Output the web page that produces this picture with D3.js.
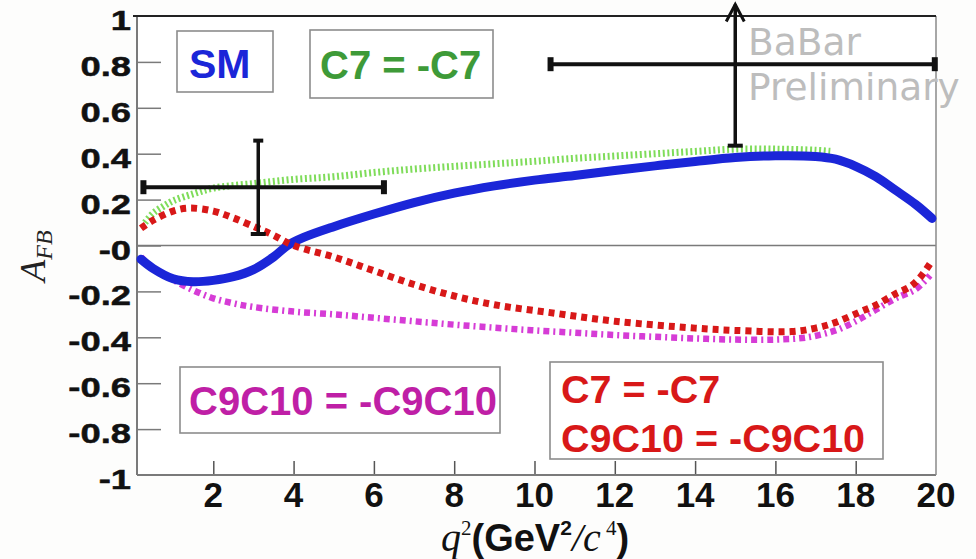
<!DOCTYPE html>
<html>
<head>
<meta charset="utf-8">
<script src="https://cdn.jsdelivr.net/npm/d3@7"></script>
<style>
  html, body { margin: 0; padding: 0; background: #fdfdfc; }
  svg { display: block; }
</style>
</head>
<body>
<svg id="chart" width="976" height="559"></svg>
<script>
// q^2 grid (GeV^2/c^4) and forward-backward asymmetry predictions
const smQ2   = [0.2, 0.5, 1.0, 1.5, 2.0, 2.5, 3.0, 3.5, 3.85, 4.25, 5.0, 6.0, 7.0, 8.0, 9.0, 10.0, 11.0, 12.0, 13.0, 14.0, 15.0, 16.0, 17.0, 17.5, 18.0, 18.5, 19.0, 19.5, 19.9];
const smAfb  = [-0.06, -0.10, -0.145, -0.158, -0.152, -0.136, -0.105, -0.05, 0.0, 0.035, 0.082, 0.137, 0.187, 0.228, 0.26, 0.285, 0.305, 0.327, 0.347, 0.366, 0.383, 0.391, 0.388, 0.376, 0.345, 0.30, 0.24, 0.178, 0.118];

const c7Q2   = [0.3, 0.5, 0.75, 1.0, 1.5, 2.0, 3.0, 4.0, 5.0, 6.0, 7.0, 8.0, 9.0, 10.0, 11.0, 12.0, 13.0, 14.0, 15.0, 16.0, 17.0, 17.4];
const c7Afb  = [0.10, 0.14, 0.17, 0.195, 0.225, 0.25, 0.27, 0.288, 0.30, 0.318, 0.333, 0.345, 0.356, 0.367, 0.38, 0.39, 0.40, 0.41, 0.42, 0.42, 0.415, 0.41];

const c9Q2   = [0.2, 0.5, 1.0, 1.5, 2.0, 2.5, 3.0, 4.0, 5.0, 6.0, 7.0, 8.0, 9.0, 10.0, 11.0, 12.0, 13.0, 14.0, 15.0, 16.0, 16.8, 17.5, 18.0, 18.5, 19.0, 19.5, 19.85];
const c9Afb  = [-0.05, -0.10, -0.15, -0.195, -0.23, -0.252, -0.268, -0.288, -0.30, -0.315, -0.33, -0.345, -0.358, -0.37, -0.38, -0.39, -0.398, -0.405, -0.41, -0.41, -0.40, -0.37, -0.33, -0.28, -0.23, -0.19, -0.13];

const bothQ2  = [0.2, 0.5, 1.0, 1.4, 2.0, 2.5, 3.1, 3.5, 4.0, 5.0, 6.0, 7.0, 8.0, 9.0, 10.5, 12.0, 14.0, 15.0, 16.4, 17.0, 17.5, 18.1, 18.5, 19.0, 19.35, 19.6, 19.85];
const bothAfb = [0.075, 0.11, 0.15, 0.163, 0.15, 0.12, 0.076, 0.045, 0.0, -0.05, -0.11, -0.17, -0.22, -0.258, -0.295, -0.33, -0.36, -0.37, -0.375, -0.36, -0.335, -0.29, -0.26, -0.21, -0.18, -0.14, -0.08];

// Measured bins: centre, bin edges, value and its error range
const binQ2    = [3.12, 15.0];
const binLo    = [0.26, 10.4];
const binHi    = [6.25, 19.97];
const binAfb   = [0.254, 0.79];
const binErrLo = [0.05, 0.435];
const binErrHi = [0.457, 1.05];

const xTicks = [2, 4, 6, 8, 10, 12, 14, 16, 18, 20];
const yTicks = [1, 0.8, 0.6, 0.4, 0.2, 0, -0.2, -0.4, -0.6, -0.8, -1];
const yTickLabels = ["1", "0.8", "0.6", "0.4", "0.2", "-0", "-0.2", "-0.4", "-0.6", "-0.8", "-1"];

const svg = d3.select("#chart");
const x = d3.scaleLinear().domain([0.1, 20]).range([137, 936]);
const y = d3.scaleLinear().domain([-1, 1]).range([475, 16]);

const axisColor = "#7a7a7a";
const sans = "'Liberation Sans', Arial, sans-serif";
const serif = "'Liberation Serif', 'Times New Roman', serif";

// plot area
svg.append("rect")
  .attr("x", x(0.1)).attr("y", y(1))
  .attr("width", x(20) - x(0.1)).attr("height", y(-1) - y(1))
  .attr("fill", "#ffffff").attr("stroke", "none");

// zero line
svg.append("line")
  .attr("x1", x(0.1)).attr("x2", x(20))
  .attr("y1", y(0)).attr("y2", y(0))
  .attr("stroke", axisColor).attr("stroke-width", 1.5);

// left axis with inward ticks
const yAxis = d3.axisRight(y).tickValues(yTicks.filter(v => Math.abs(v) < 1)).tickSize(24).tickFormat("");
const gy = svg.append("g").attr("transform", `translate(${x(0.1)},0)`).call(yAxis);
gy.select(".domain").remove();
gy.selectAll(".tick line").attr("stroke", axisColor).attr("stroke-width", 1.5);

// bottom axis with inward ticks
const xAxis = d3.axisTop(x).tickValues(xTicks.filter(v => v < 20)).tickSize(14).tickFormat("");
const gx = svg.append("g").attr("transform", `translate(0,${y(-1)})`).call(xAxis);
gx.select(".domain").remove();
gx.selectAll(".tick line").attr("stroke", "#555").attr("stroke-width", 1.5);

// frame lines
svg.append("line").attr("x1", x(0.1)).attr("x2", x(0.1)).attr("y1", y(1)).attr("y2", y(-1))
  .attr("stroke", axisColor).attr("stroke-width", 2);
svg.append("line").attr("x1", x(0.1)).attr("x2", x(20)).attr("y1", y(-1)).attr("y2", y(-1))
  .attr("stroke", axisColor).attr("stroke-width", 2);
svg.append("line").attr("x1", x(20)).attr("x2", x(20)).attr("y1", y(1)).attr("y2", y(-1))
  .attr("stroke", "#8a8a8a").attr("stroke-width", 1.5);
svg.append("line").attr("x1", x(0.1) - 4).attr("x2", x(20)).attr("y1", y(1)).attr("y2", y(1))
  .attr("stroke", "#222").attr("stroke-width", 1.8);

// y tick labels
svg.append("g").selectAll("g").data(yTicks).join("g")
  .attr("transform", d => `translate(131,${y(d) + 4}) scale(1.04,0.8)`)
  .append("text")
  .attr("text-anchor", "end").attr("dy", "0.36em")
  .attr("font-family", sans).attr("font-weight", "bold").attr("font-size", 35)
  .attr("fill", "#111").attr("stroke", "#111").attr("stroke-width", 0.6)
  .text((d, i) => yTickLabels[i]);

// x tick labels
svg.append("g").selectAll("text").data(xTicks).join("text")
  .attr("x", d => x(d)).attr("y", 507)
  .attr("text-anchor", "middle")
  .attr("font-family", sans).attr("font-weight", "bold").attr("font-size", 35)
  .attr("fill", "#111")
  .text(d => d);

// x axis title
const xt = svg.append("text").attr("x", 441).attr("y", 551).attr("fill", "#111");
xt.append("tspan").attr("font-family", serif).attr("font-style", "italic").attr("font-size", 40).text("q");
xt.append("tspan").attr("font-family", serif).attr("font-size", 21).attr("dy", -16).text("2");
xt.append("tspan").attr("font-family", sans).attr("font-weight", "bold").attr("font-size", 38).attr("dy", 16).text("(GeV");
xt.append("tspan").attr("font-family", sans).attr("font-weight", "bold").attr("font-size", 21).attr("dy", -16).text("2");
xt.append("tspan").attr("font-family", serif).attr("font-style", "italic").attr("font-size", 40).attr("dy", 16).text("/c");
xt.append("tspan").attr("font-family", serif).attr("font-size", 21).attr("dy", -16).text(" 4");
xt.append("tspan").attr("font-family", sans).attr("font-weight", "bold").attr("font-size", 38).attr("dy", 16).text(")");

// y axis title
const yt = svg.append("text").attr("transform", "translate(45,256) rotate(-90)")
  .attr("text-anchor", "middle").attr("fill", "#222")
  .attr("font-family", serif).attr("font-style", "italic");
yt.append("tspan").attr("font-size", 36).text("A");
yt.append("tspan").attr("font-size", 24).attr("dy", 7).text("FB");

// curves
const line = d3.line().x(d => x(d[0])).y(d => y(d[1])).curve(d3.curveCatmullRom.alpha(0.5));
const zipQ = (q, a) => q.map((v, i) => [v, a[i]]);

svg.append("path").datum(zipQ(c9Q2, c9Afb)).attr("d", line)
  .attr("fill", "none").attr("stroke", "#d63cd6").attr("stroke-width", 6.5)
  .attr("stroke-dasharray", "6,4,2,4");

svg.append("path").datum(zipQ(c7Q2, c7Afb)).attr("d", line)
  .attr("fill", "none").attr("stroke", "#7fdc5a").attr("stroke-width", 7)
  .attr("stroke-dasharray", "2,2.6");

svg.append("path").datum(zipQ(smQ2, smAfb)).attr("d", line)
  .attr("fill", "none").attr("stroke", "#1b26d8").attr("stroke-width", 9)
  .attr("stroke-linecap", "round");

svg.append("path").datum(zipQ(bothQ2, bothAfb)).attr("d", line)
  .attr("fill", "none").attr("stroke", "#d81818").attr("stroke-width", 7)
  .attr("stroke-dasharray", "6,5");

// measured points with error bars
const eb = svg.append("g").attr("stroke", "#111").attr("fill", "none");
binQ2.forEach((q, i) => {
  const cx = x(q), cy = y(binAfb[i]);
  const xl = x(binLo[i]), xr = x(binHi[i]);
  const yb = y(binErrLo[i]), ytop = y(binErrHi[i]);
  eb.append("line").attr("x1", xl).attr("x2", xr).attr("y1", cy).attr("y2", cy).attr("stroke-width", 4);
  eb.append("line").attr("x1", cx).attr("x2", cx).attr("y1", yb).attr("y2", ytop).attr("stroke-width", 3.5);
  // end caps of the horizontal bar
  [xl, xr].forEach(px => eb.append("line").attr("x1", px).attr("x2", px)
    .attr("y1", cy - 7).attr("y2", cy + 7).attr("stroke-width", 6));
  // lower cap
  eb.append("line").attr("x1", cx - 7.5).attr("x2", cx + 7.5).attr("y1", yb).attr("y2", yb).attr("stroke-width", 4);
  if (binErrHi[i] > 1) {
    // error runs past the frame: arrow
    eb.append("path").attr("d", `M${cx - 9},${ytop + 17} L${cx},${ytop} L${cx + 9},${ytop + 17}`)
      .attr("stroke-width", 3);
  } else {
    eb.append("line").attr("x1", cx - 5).attr("x2", cx + 5).attr("y1", ytop).attr("y2", ytop).attr("stroke-width", 4);
  }
});

// labelled boxes
function box(x0, y0, w, h) {
  svg.append("rect").attr("x", x0).attr("y", y0).attr("width", w).attr("height", h)
    .attr("fill", "#ffffff").attr("stroke", "#8c8c8c").attr("stroke-width", 1.6);
}
function label(tx, ty, str, color, size) {
  svg.append("text").attr("x", tx).attr("y", ty)
    .attr("font-family", sans).attr("font-weight", "bold").attr("font-size", size)
    .attr("fill", color).text(str);
}
box(177, 31, 96, 61);
label(189, 78, "SM", "#1b26d8", 41);
box(310, 30, 183, 68);
label(320, 79, "C7 = -C7", "#3e9a38", 40);
box(180, 367, 320, 66);
label(189, 415, "C9C10 = -C9C10", "#bf1fa6", 40);
box(550, 362, 333, 97);
label(561, 403, "C7 = -C7", "#d81818", 39.5);
label(561, 452, "C9C10 = -C9C10", "#d81818", 39.5);

// preliminary tag
const tag = svg.append("g").attr("font-family", "'DejaVu Sans', sans-serif").attr("font-size", 37.5).attr("fill", "#bdbdbd");
tag.append("text").attr("x", 748).attr("y", 55).text("BaBar");
tag.append("text").attr("x", 748).attr("y", 100).text("Preliminary");
</script>
</body>
</html>
